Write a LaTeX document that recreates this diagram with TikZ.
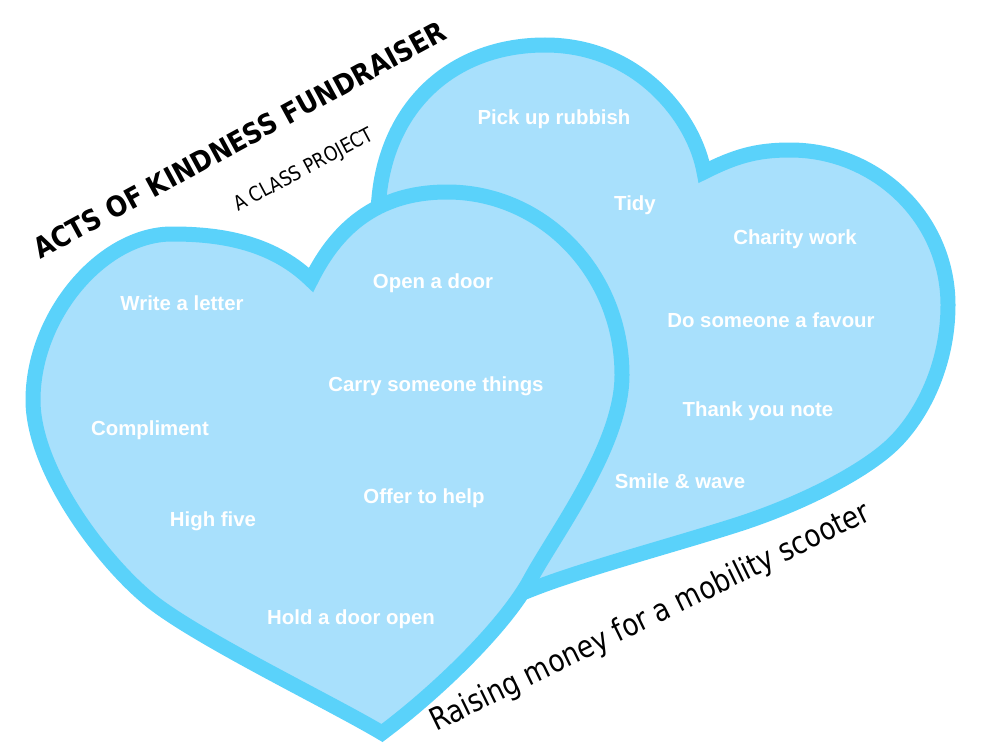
\documentclass[tikz,border=0pt]{standalone}
\usepackage{fontspec}
\usepackage{graphicx}
\newfontfamily\lblfont{Liberation Sans}
\newfontfamily\comicfont{DejaVu Sans}
\definecolor{heartfill}{RGB}{168,224,252}
\definecolor{heartline}{RGB}{90,210,250}
\tikzset{
  heart/.style={fill=heartfill, draw=heartline, line width=0.3cm, line join=miter},
  lbl/.style={text=white, font=\lblfont\bfseries\fontsize{11.6}{14}\selectfont, anchor=base, inner sep=0pt},
  comic/.style={text=black, inner sep=0pt, anchor=base west},
}
\begin{document}
\begin{tikzpicture}[x=0.02cm,y=-0.02cm]
\useasboundingbox (0,0) rectangle (1000,750);
% back heart
\path[heart] (545,45)
  .. controls (640,45) and (695,120) .. (704,172)
  .. controls (734,157) and (755,150) .. (790,150)
  .. controls (877,150) and (948,219) .. (948,305)
  .. controls (948,365) and (922,416) .. (893,444)
  .. controls (864,472) and (800,505) .. (733,526)
  .. controls (670,546) and (580,570) .. (530,590)
  .. controls (490,530) and (410,420) .. (388,320)
  .. controls (378,280) and (375,250) .. (378,215)
  .. controls (380,110) and (450,45) .. (545,45) -- cycle;
% front heart
\path[heart] (172,234)
  .. controls (102,234) and (33,316) .. (33,400)
  .. controls (33,470) and (103,562) .. (150,600)
  .. controls (197,638) and (330,702) .. (382,733)
  .. controls (442,688) and (506,624) .. (530,580)
  .. controls (556,532) and (622,445) .. (622,375)
  .. controls (622,274) and (544,192) .. (447,192)
  .. controls (367,192) and (331,240) .. (311,280)
  .. controls (270,240) and (215,234) .. (172,234) -- cycle;
% labels back heart
\node[lbl] (pick) at (554,125) {Pick up rubbish};
\node[lbl] (tidy) at (635,210) {Tidy};
\node[lbl] (charity) at (795,244) {Charity work};
\node[lbl] (favour) at (771,327) {Do someone a favour};
\node[lbl] (thank) at (758,416) {Thank you note};
\node[lbl] (smile) at (680,488) {Smile \& wave};
% labels front heart
\node[lbl] (open) at (433,288) {Open a door};
\node[lbl] (write) at (182,310) {Write a letter};
\node[lbl] (carry) at (436,391) {Carry someone things};
\node[lbl] (compl) at (150,435) {Compliment};
\node[lbl] (offer) at (424,503) {Offer to help};
\node[lbl] (high) at (213,526) {High five};
\node[lbl] (hold) at (351,624) {Hold a door open};
% titles
\node[comic, rotate=28.5] (title) at (40,260) {\resizebox{9.3cm}{0.42cm}{\comicfont\bfseries ACTS OF KINDNESS FUNDRAISER}};
\node[comic, rotate=28] (sub) at (238,212) {\resizebox{3.1cm}{0.3cm}{\comicfont A CLASS PROJECT}};
\node[comic, rotate=26] (raise) at (436,732) {\resizebox{9.7cm}{0.47cm}{\comicfont Raising money for a mobility scooter}};
\end{tikzpicture}
\end{document}
